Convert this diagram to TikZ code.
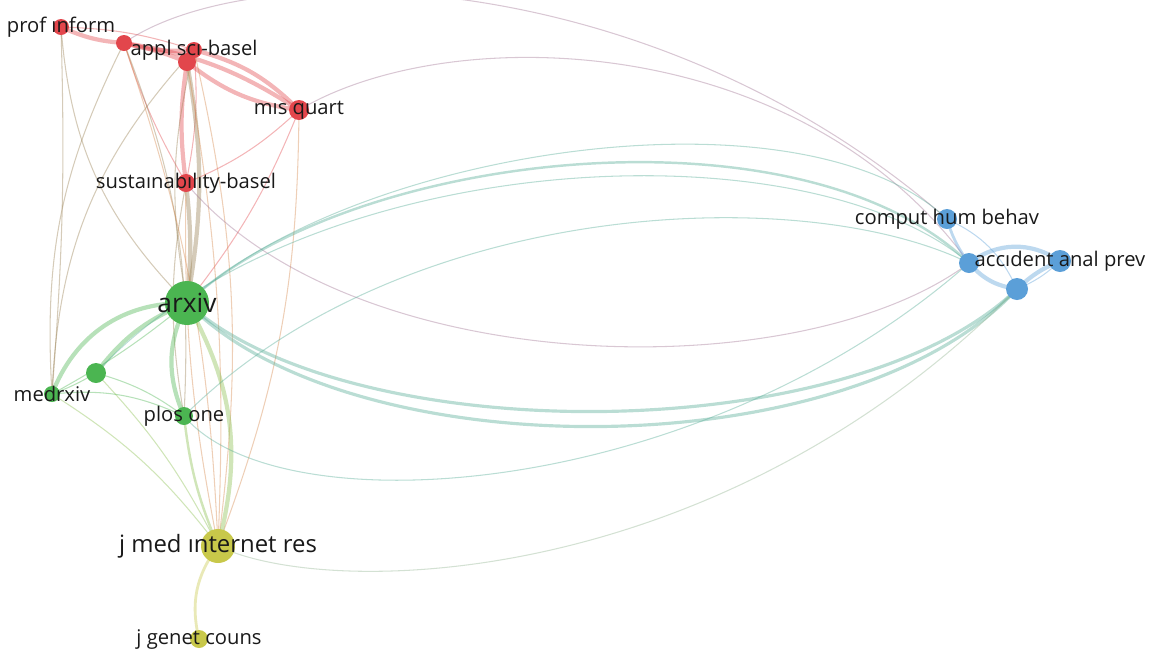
\documentclass[tikz,border=0pt]{standalone}
\usepackage{fontspec}
\setmainfont{Open Sans}
\usepackage{tikz}
\usetikzlibrary{calc}

\definecolor{vred}{HTML}{E2464C}
\definecolor{vgreen}{HTML}{4BB551}
\definecolor{vblue}{HTML}{5B9FD8}
\definecolor{vyellow}{HTML}{C8C84A}

\begin{document}
\begin{tikzpicture}[
        x=0.02cm, y=-0.02cm,
        journal/.style={circle, inner sep=0pt, fill=#1},
        lbl/.style={font=\fontsize{11.5}{13}\selectfont, text=black!90},
        biglbl/.style={font=\fontsize{15}{17}\selectfont, text=black!90},
        link/.style={line width=0.6pt, draw opacity=0.4},
        wide/.style={line width=2.4pt, draw opacity=0.4}
    ]
        \useasboundingbox (0,0) rectangle (1150,657);

        % --- Posiciones de las revistas ---
        \coordinate (pi) at (61,27);   % prof inform
        \coordinate (r1) at (124,43);
        \coordinate (as) at (194,50);  % appl sci-basel
        \coordinate (r2) at (187,62);
        \coordinate (mq) at (299,110); % mis quart
        \coordinate (sb) at (186,183); % sustainability-basel
        \coordinate (ax) at (187,303); % arxiv
        \coordinate (g1) at (96,373);
        \coordinate (mr) at (52,394);  % medrxiv
        \coordinate (po) at (184,416); % plos one
        \coordinate (jm) at (218,546); % j med internet res
        \coordinate (jg) at (199,639); % j genet couns
        \coordinate (ch) at (947,219); % comput hum behav
        \coordinate (b1) at (969,263);
        \coordinate (ap) at (1060,261); % accident anal prev
        \coordinate (b2) at (1017,289);

        % --- Enlaces del grupo rojo ---
        \draw[wide, vred] (pi) to[bend right=10] (r1);
        \draw[link, vred] (pi) to[bend left=8] (as);
        \draw[wide, vred] (r1) to[bend right=10] (as);
        \draw[wide, vred] (r1) to[bend left=5] (r2);
        \draw[wide, vred] (r1) to[bend left=12] (mq);
        \draw[wide, vred] (as) to[bend left=15] (mq);
        \draw[wide, vred] (r2) to[bend right=15] (mq);
        \draw[wide, vred] (r2) to[bend right=8] (sb);
        \draw[link, vred] (as) to[bend left=8] (sb);
        \draw[link, vred] (mq) to[bend left=10] (sb);
        \draw[link, vred] (r1) to[bend right=6] (sb);

        % --- Enlaces rojo-verde y rojo-amarillo ---
        \draw[wide, vred!50!vgreen] (r2) to[bend left=10] (ax);
        \draw[wide, vred!50!vgreen] (sb) to[bend left=6] (ax);
        \draw[link, vred!50!vgreen] (pi) to[bend right=20] (ax);
        \draw[link, vred!50!vgreen] (as) to[bend right=12] (ax);
        \draw[link, vred] (mq) to[bend left=8] (ax);
        \draw[link, vred!50!vgreen] (pi) to[bend left=3] (mr);
        \draw[link, vred!50!vgreen] (r1) to[bend right=15] (mr);
        \draw[link, vred!50!vgreen] (as) to[bend right=20] (mr);
        \draw[link, vred!50!vgreen] (r1) to[bend left=12] (po);
        \draw[link, vred!50!vgreen] (sb) to[bend right=10] (po);
        \draw[link, vred!50!vyellow] (r2) to[bend left=6] (jm);
        \draw[link, vred!50!vyellow] (r1) to[bend left=8] (jm);
        \draw[link, vred!50!vyellow] (sb) to[bend right=6] (jm);
        \draw[link, vred!50!vyellow] (as) to[bend left=10] (jm);
        \draw[link, vred!50!vyellow] (mq) to[bend left=10] (jm);

        % --- Enlaces del grupo verde ---
        \draw[wide, vgreen] (ax) to[bend right=35] (mr);
        \draw[wide, vgreen] (ax) to[bend right=15] (g1);
        \draw[wide, vgreen] (ax) to[bend right=25] (po);
        \draw[wide, vgreen!50!vyellow] (ax) to[bend left=22] (jm);
        \draw[link, vgreen] (g1) to[bend left=5] (mr);
        \draw[link, vgreen] (mr) to[bend left=15] (po);
        \draw[link, vgreen] (g1) to[bend left=10] (po);
        \draw[link, vgreen] (mr) to[bend right=5] (ax);
        \draw[link, vgreen!50!vyellow] (mr) to[bend left=10] (jm);
        \draw[link, vgreen!50!vyellow] (g1) to[bend left=8] (jm);
        \draw[wide, vgreen!50!vyellow, line width=1.4pt] (po) to[bend right=8] (jm);
        \draw[wide, vyellow, line width=1.6pt] (jm) to[bend right=25] (jg);

        % --- Enlaces hacia el grupo azul ---
        \draw[link, vred!50!vblue] (r1) .. controls (250,-45) and (650,-40) .. (ch);
        \draw[link, vred!50!vblue] (mq) .. controls (450,20) and (800,30) .. (b1);
        \draw[link, vred!50!vblue] (sb) .. controls (350,380) and (800,390) .. (b1);
        \draw[link, vgreen!50!vblue] (ax) .. controls (350,150) and (800,80) .. (ch);
        \draw[wide, vgreen!50!vblue, line width=1.4pt] (ax) .. controls (350,150) and (800,100) .. (b1);
        \draw[link, vgreen!50!vblue] (g1) .. controls (300,150) and (800,120) .. (b1);
        \draw[link, vgreen!50!vblue] (po) .. controls (400,200) and (800,180) .. (b1);
        \draw[wide, vgreen!50!vblue, line width=1.8pt] (ax) .. controls (350,450) and (850,450) .. (b2);
        \draw[wide, vgreen!50!vblue, line width=1.8pt] (ax) .. controls (350,470) and (850,470) .. (b2);
        \draw[link, vgreen!50!vblue] (po) .. controls (280,530) and (700,500) .. (b1);
        \draw[link, vyellow!50!vblue] (jm) .. controls (330,600) and (720,590) .. (b2);

        % --- Enlaces del grupo azul ---
        \draw[wide, vblue, line width=1.6pt] (ch) to[bend right=10] (b1);
        \draw[link, vblue] (ch) to[bend left=20] (b2);
        \draw[wide, vblue] (b1) to[bend left=35] (ap);
        \draw[wide, vblue] (b1) to[bend right=20] (b2);
        \draw[wide, vblue] (ap) to[bend right=10] (b2);
        \draw[link, vblue] (ap) to[bend left=10] (b2);

        % --- Revistas (nodos) ---
        \node[journal=vred, minimum size=0.32cm, label={[lbl]center:prof ınform}] (prof) at (pi) {};
        \node[journal=vred, minimum size=0.32cm] (red1) at (r1) {};
        \node[journal=vred, minimum size=0.36cm] (red2) at (r2) {};
        \node[journal=vred, minimum size=0.32cm, label={[lbl]center:appl scı-basel}] (appl) at (as) {};
        \node[journal=vred, minimum size=0.40cm, label={[lbl]center:mıs quart}] (misq) at (mq) {};
        \node[journal=vred, minimum size=0.36cm, label={[lbl]center:sustaınabılıty-basel}] (sust) at (sb) {};
        \node[journal=vgreen, minimum size=0.88cm, label={[biglbl]center:arxiv}] (arxiv) at (ax) {};
        \node[journal=vgreen, minimum size=0.40cm] (green1) at (g1) {};
        \node[journal=vgreen, minimum size=0.32cm, label={[lbl]center:medrxiv}] (medr) at (mr) {};
        \node[journal=vgreen, minimum size=0.36cm, label={[lbl]center:plos one}] (plos) at (po) {};
        \node[journal=vyellow, minimum size=0.68cm, label={[biglbl, font=\fontsize{13.6}{15}\selectfont]center:j med ınternet res}] (jmed) at (jm) {};
        \node[journal=vyellow, minimum size=0.36cm, label={[lbl]center:j genet couns}] (jgen) at (jg) {};
        \node[journal=vblue, minimum size=0.40cm, label={[lbl]center:comput hum behav}] (comp) at (ch) {};
        \node[journal=vblue, minimum size=0.40cm] (blue1) at (b1) {};
        \node[journal=vblue, minimum size=0.44cm, label={[lbl]center:accıdent anal prev}] (acc) at (ap) {};
        \node[journal=vblue, minimum size=0.44cm] (blue2) at (b2) {};

    \end{tikzpicture}
\end{document}
